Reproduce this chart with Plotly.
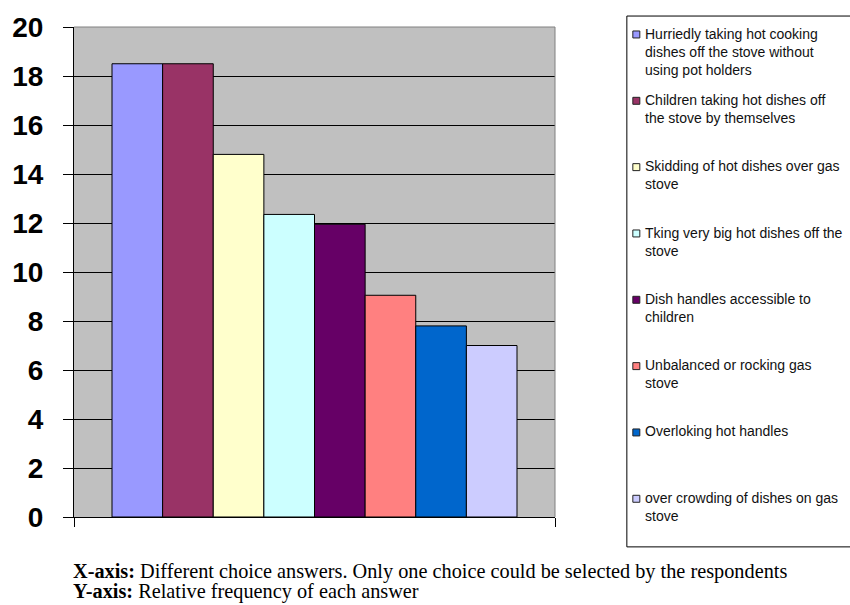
import plotly.graph_objects as go

# ---- data ----
answers = [
    "Hurriedly taking hot cooking<br>dishes off the stove without<br>using pot holders",
    "Children taking hot dishes off<br>the stove by themselves",
    "Skidding of hot dishes over gas<br>stove",
    "Tking very big hot dishes off the<br>stove",
    "Dish handles accessible to<br>children",
    "Unbalanced or rocking gas<br>stove",
    "Overloking hot handles",
    "over crowding of dishes on gas<br>stove",
]
frequency = [18.5, 18.5, 14.8, 12.35, 11.95, 9.05, 7.8, 7.0]
colors = ["#9999FF", "#993366", "#FFFFCC", "#CCFFFF",
          "#660066", "#FF8080", "#0066CC", "#CCCCFF"]
y_ticks = list(range(0, 21, 2))

# ---- layout geometry (pixels) ----
W, H = 850, 605
ML, MR, MT, MB = 73, 295, 25, 88
PW, PH = W - ML - MR, H - MT - MB


def px_x(p):
    return (p - ML) / PW


def px_y(p):
    return (H - MB - p) / PH


fig = go.Figure()
for name, val, col in zip(answers, frequency, colors):
    fig.add_trace(go.Bar(
        x=["answers"], y=[val], name=name.replace("<br>", " "),
        marker=dict(color=col, line=dict(color="black", width=1)),
        showlegend=False, hoverinfo="y",
    ))

shapes = [
    # gray top and right border of plot area
    dict(type="line", xref="paper", yref="paper", x0=0, x1=1, y0=1, y1=1,
         line=dict(color="#808080", width=1)),
    dict(type="line", xref="paper", yref="paper", x0=1, x1=1, y0=0, y1=1,
         line=dict(color="#808080", width=1)),
    # legend box
    dict(type="rect", xref="paper", yref="paper",
         x0=px_x(627), x1=px_x(880), y0=px_y(547), y1=px_y(14),
         line=dict(color="black", width=1), fillcolor="white", layer="below"),
]
annotations = []
step = 66.6
for i, (name, col) in enumerate(zip(answers, colors)):
    cy = 32.5 + step * i
    shapes.append(dict(type="rect", xref="paper", yref="paper",
                       x0=px_x(633), x1=px_x(640), y0=px_y(cy + 3.5), y1=px_y(cy - 3.5),
                       line=dict(color="#222222", width=1), fillcolor=col))
    annotations.append(dict(
        xref="paper", yref="paper", x=px_x(643), y=px_y(cy - 11),
        xanchor="left", yanchor="top", align="left", showarrow=False,
        text=name, font=dict(family="Arial, Liberation Sans", size=14, color="#111111"),
    ))

annotations.append(dict(
    xref="paper", yref="paper", x=px_x(70), y=px_y(572), xanchor="left", yanchor="middle",
    showarrow=False, align="left",
    text="<b>X-axis:</b> Different choice answers. Only one choice could be selected by the respondents",
    font=dict(family="Times New Roman, Liberation Serif", size=20.3, color="black"),
))
annotations.append(dict(
    xref="paper", yref="paper", x=px_x(70), y=px_y(592), xanchor="left", yanchor="middle",
    showarrow=False, align="left",
    text="<b>Y-axis:</b> Relative frequency of each answer",
    font=dict(family="Times New Roman, Liberation Serif", size=20.3, color="black"),
))

fig.update_layout(
    width=W, height=H,
    margin=dict(l=ML, r=MR, t=MT, b=MB, pad=0),
    paper_bgcolor="white", plot_bgcolor="#C0C0C0",
    barmode="group", bargap=0.158, bargroupgap=0,
    shapes=shapes, annotations=annotations,
    xaxis=dict(type="category", range=[-0.5, 0.5], showticklabels=False,
               ticks="outside", tickson="boundaries", ticklen=9, tickcolor="black",
               showline=True, linecolor="black", linewidth=1, showgrid=False,
               fixedrange=True),
    yaxis=dict(range=[0, 20], tickvals=y_ticks, ticktext=[str(v) for v in y_ticks],
               ticks="outside", ticklen=10, tickcolor="black",
               showline=True, linecolor="black", linewidth=1,
               showgrid=True, gridcolor="black", gridwidth=1, zeroline=False,
               tickfont=dict(family="Arial, Liberation Sans", size=28, color="black",
                             weight="bold"),
               ticklabelstandoff=14, fixedrange=True),
)

fig.write_html("out.html")
